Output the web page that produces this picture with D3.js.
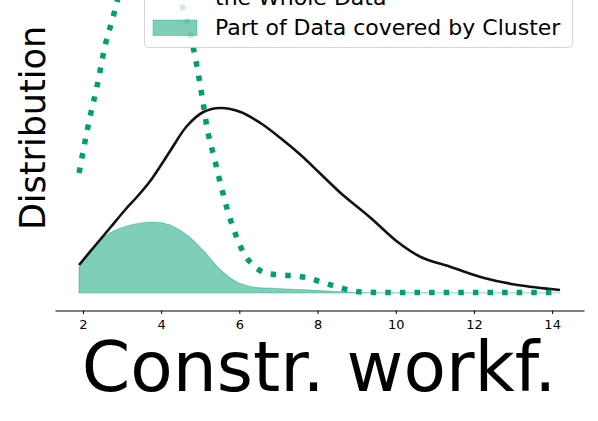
<!DOCTYPE html>
<html><head><meta charset="utf-8">
<script src="https://cdn.jsdelivr.net/npm/d3@7"></script>
<style>body{margin:0;background:#fff;overflow:hidden}</style>
</head><body>
<script>
// ---- data ----
const xTicks = [2, 4, 6, 8, 10, 12, 14];
const xLabel = "Constr. workf.";
const yLabel = "Distribution";
const legendLabels = ["the Whole Data", "Part of Data covered by Cluster"];

// solid black curve
const whiteX = [1.9, 2.26, 2.69, 3.12, 3.38, 3.72, 3.98, 4.23, 4.66, 5.08, 5.52, 6.03, 6.54, 7.05, 7.57, 8.08, 8.59, 9.36, 10.05, 10.64, 11.41, 12.26, 13.12, 14.2];
const whiteY = [0.028, 0.045, 0.065, 0.085, 0.096, 0.112, 0.127, 0.142, 0.167, 0.181, 0.185, 0.181, 0.170, 0.155, 0.138, 0.119, 0.100, 0.075, 0.051, 0.036, 0.026, 0.015, 0.008, 0.003];

// dotted green curve (the whole data)
const wholeX = [1.9, 2.18, 2.35, 2.57, 2.77, 2.87, 3.08, 3.29, 3.49, 3.7, 3.9, 4.1, 4.31, 4.49, 4.7, 4.85, 5.05, 5.17, 5.34, 5.52, 5.71, 5.96, 6.11, 6.35, 6.67, 7.05, 7.44, 7.77, 8.16, 8.52, 8.9, 9.36, 10, 11, 12, 13, 14.2];
const wholeY = [0.120, 0.176, 0.205, 0.248, 0.276, 0.291, 0.322, 0.343, 0.355, 0.360, 0.356, 0.345, 0.322, 0.293, 0.266, 0.240, 0.196, 0.166, 0.138, 0.109, 0.081, 0.053, 0.040, 0.028, 0.020, 0.018, 0.017, 0.015, 0.010, 0.006, 0.002, 0.0007, 0.0005, 0.0005, 0.0005, 0.0005, 0.0005];

// filled green area (part covered by cluster)
const clusterX = [1.9, 2.27, 2.69, 3.12, 3.81, 4.23, 4.66, 5.09, 5.52, 5.94, 6.37, 6.97, 7.82, 9.1, 10, 11, 12, 13, 14.2];
const clusterY = [0.026, 0.046, 0.060, 0.067, 0.071, 0.068, 0.058, 0.042, 0.023, 0.011, 0.006, 0.0045, 0.003, 0.0004, 0.0002, 0.0001, 0.0001, 0.0001, 0.0001];

const green = "#009E73";

// ---- drawing ----
const W = 598, H = 421;
const svg = d3.select("body").append("svg").attr("width", W).attr("height", H)
  .style("font-family", "'DejaVu Sans', sans-serif");

const x = d3.scaleLinear().domain([1.285, 14.815]).range([55, 584]);
const y = d3.scaleLinear().domain([0, 0.3]).range([293, -7]);

const zip = (xs, ys) => xs.map((v, i) => [v, ys[i]]);

// cluster fill
svg.append("path")
  .datum(zip(clusterX, clusterY))
  .attr("d", d3.area().x(d => x(d[0])).y0(y(0)).y1(d => y(d[1])).curve(d3.curveCatmullRom.alpha(0.5)))
  .attr("fill", green).attr("fill-opacity", 0.5)
  .attr("stroke", green).attr("stroke-opacity", 0.35).attr("stroke-width", 1.2);

// black line
svg.append("path")
  .datum(zip(whiteX, whiteY))
  .attr("d", d3.line().x(d => x(d[0])).y(d => y(d[1])).curve(d3.curveCatmullRom.alpha(0.5)))
  .attr("fill", "none").attr("stroke", "#111").attr("stroke-width", 2.6);

// dotted line
svg.append("path")
  .datum(zip(wholeX, wholeY))
  .attr("d", d3.line().x(d => x(d[0])).y(d => y(d[1])).curve(d3.curveMonotoneX))
  .attr("fill", "none").attr("stroke", green).attr("stroke-width", 5.5)
  .attr("stroke-dasharray", "5.5,9.1").attr("stroke-linecap", "butt");

// x axis
const ax = svg.append("g").attr("transform", "translate(0,310.5)")
  .call(d3.axisBottom(x).tickValues(xTicks).tickSize(3.5).tickSizeOuter(0).tickPadding(6));
ax.attr("font-size", null).attr("font-family", null);
ax.select(".domain").attr("stroke", "#000").attr("stroke-width", 1);
ax.selectAll(".tick line").attr("stroke", "#000").attr("stroke-width", 1);
ax.selectAll(".tick text").attr("fill", "#000").style("font-size", "13px")
  .style("font-family", "'DejaVu Sans', sans-serif");

// axis labels
svg.append("text").attr("x", 319).attr("y", 391).attr("text-anchor", "middle")
  .style("font-size", "69.5px").attr("fill", "#000").text(xLabel);
svg.append("text").attr("transform", "translate(45,128) rotate(-90)").attr("text-anchor", "middle")
  .style("font-size", "35px").attr("fill", "#000").text(yLabel);

// legend
const lg = svg.append("g");
lg.append("rect").attr("x", 144.5).attr("y", -20).attr("width", 428).attr("height", 67.5)
  .attr("rx", 4).attr("fill", "#fff").attr("fill-opacity", 0.8)
  .attr("stroke", "#ccc").attr("stroke-opacity", 0.8);
lg.append("rect").attr("x", 153).attr("y", 20).attr("width", 44).attr("height", 15.5)
  .attr("fill", green).attr("fill-opacity", 0.5).attr("stroke", green).attr("stroke-opacity", 0.35);
lg.append("text").attr("x", 215).attr("y", 5).style("font-size", "22px").attr("fill", "#000").text(legendLabels[0]);
lg.append("text").attr("x", 215).attr("y", 34.5).style("font-size", "22px").attr("fill", "#000").text(legendLabels[1]);
</script>
</body></html>
